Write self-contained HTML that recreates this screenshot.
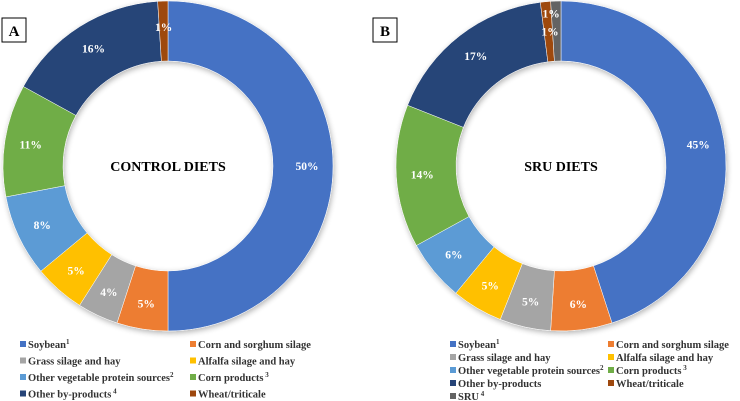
<!DOCTYPE html>
<html><head><meta charset="utf-8"><style>
body{margin:0;background:#fff;}
svg{display:block;font-family:"Liberation Serif",serif;}
</style></head><body>
<svg id="chart" width="740" height="401" viewBox="0 0 740 401">
<defs><filter id="sh" x="-10%" y="-10%" width="120%" height="120%"><feGaussianBlur in="SourceAlpha" stdDeviation="3"/><feOffset dx="1" dy="2"/><feComponentTransfer><feFuncA type="linear" slope="0.3"/></feComponentTransfer><feMerge><feMergeNode/><feMergeNode in="SourceGraphic"/></feMerge></filter></defs>
<rect x="2" y="18" width="24" height="24" fill="#fff" stroke="#000" stroke-width="1"/>
<text x="14" y="36" text-anchor="middle" font-weight="bold" font-size="15">A</text>
<rect x="373" y="18" width="24" height="24" fill="#fff" stroke="#000" stroke-width="1"/>
<text x="385" y="36" text-anchor="middle" font-weight="bold" font-size="15">B</text>
<g id="gA" filter="url(#sh)"></g>
<g id="gB" filter="url(#sh)"></g>
<g id="labels"></g>
<text x="168" y="171" text-anchor="middle" font-weight="bold" font-size="14">CONTROL DIETS</text>
<text x="561" y="171" text-anchor="middle" font-weight="bold" font-size="14">SRU DIETS</text>
<g id="legend" font-size="10.5" font-weight="bold"></g>
</svg>
<script>
const categoriesA = ["Soybean","Corn and sorghum silage","Grass silage and hay","Alfalfa silage and hay","Other vegetable protein sources","Corn products","Other by-products","Wheat/triticale"];
const valuesA = [50,5,4,5,8,11,16,1];
const categoriesB = ["Soybean","Corn and sorghum silage","Grass silage and hay","Alfalfa silage and hay","Other vegetable protein sources","Corn products","Other by-products","Wheat/triticale","SRU"];
const valuesB = [45,6,5,5,6,14,17,1,1];
const colors = ["#4472C4","#ED7D31","#A5A5A5","#FFC000","#5B9BD5","#70AD47","#264478","#9E480E","#636363"];
const NS="http://www.w3.org/2000/svg";
function pt(cx,cy,r,a){return [cx+r*Math.sin(a),cy-r*Math.cos(a)];}
function donut(gid,cx,cy,R,r,vals,cats,tag){
  const g=document.getElementById(gid),lab=document.getElementById('labels');
  const tot=vals.reduce((s,v)=>s+v,0);let a0=0;
  vals.forEach((v,i)=>{
    const a1=a0+v/tot*2*Math.PI;const lg=(a1-a0)>Math.PI?1:0;
    const p1=pt(cx,cy,R,a0),p2=pt(cx,cy,R,a1),p3=pt(cx,cy,r,a1),p4=pt(cx,cy,r,a0);
    const p=document.createElementNS(NS,'path');
    p.setAttribute('d',`M${p1}A${R},${R} 0 ${lg} 1 ${p2}L${p3}A${r},${r} 0 ${lg} 0 ${p4}Z`);
    p.setAttribute('fill',colors[i]);p.setAttribute('stroke','#fff');p.setAttribute('stroke-width','0.5');
    
    
    g.appendChild(p);
    const am=(a0+a1)/2;let lr=(R+r)/2+4;
    let q=pt(cx,cy,lr,am);
    if(tag==='b'&&i===7){q=pt(cx,cy,R-12,am+0.03);}
    if(tag==='b'&&i===8){q=pt(cx,cy,R-30,am-0.05);}
    const t=document.createElementNS(NS,'text');
    t.setAttribute('x',q[0]);t.setAttribute('y',q[1]+4);t.setAttribute('text-anchor','middle');
    t.setAttribute('fill','#fff');t.setAttribute('font-weight','bold');t.setAttribute('font-size','11.5');
    t.textContent=Math.round(v)+'%';
    
    
    lab.appendChild(t);
    a0=a1;
  });
}
donut('gA',168,166,165,105,valuesA,categoriesA,'a');
donut('gB',561,166,165,105,valuesB,categoriesB,'b');
function legend(cats,x1,x2,y0,dy,tag,supB){
  const lg=document.getElementById('legend');
  cats.forEach((c,i)=>{
    const x=i%2===0?x1:x2,y=y0+Math.floor(i/2)*dy;
    const r=document.createElementNS(NS,'rect');
    r.setAttribute('x',x);r.setAttribute('y',y-7);r.setAttribute('width',6);r.setAttribute('height',6);r.setAttribute('fill',colors[i]);
    
    
    lg.appendChild(r);
    const t=document.createElementNS(NS,'text');
    t.setAttribute('x',x+8);t.setAttribute('y',y);t.setAttribute('fill','#333');
    t.textContent=c;
    const s=supB[i];
    if(s){const ts=document.createElementNS(NS,'tspan');ts.setAttribute('dy','-4');ts.setAttribute('font-size','7');ts.textContent=s;t.appendChild(ts);}
    
    
    lg.appendChild(t);
  });
}
legend(categoriesA,20,190,348,16.5,'a',{0:'1',4:'2',5:' 3',6:' 4'});
legend(categoriesB,450,608,348,13,'b',{0:'1',4:'2',5:' 3',8:' 4'});
</script>
</body></html>
